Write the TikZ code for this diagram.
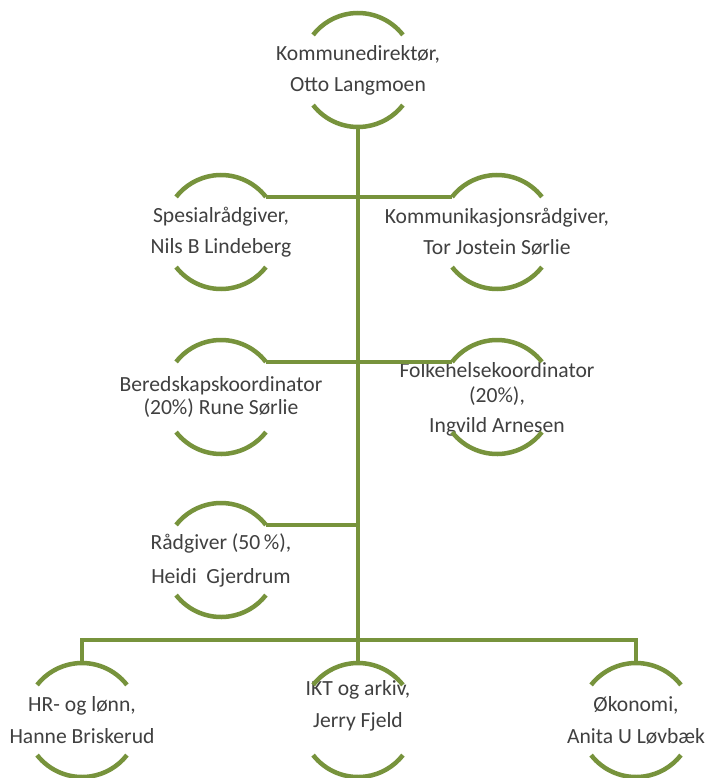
\documentclass[tikz,border=0pt]{standalone}
\usepackage{fontspec}
\setmainfont{Carlito}
\definecolor{olive}{HTML}{77933C}
\definecolor{inktext}{HTML}{404040}

\tikzset{
  unit/.style={circle,minimum size=114pt,inner sep=0pt,outer sep=0pt},
  unittext/.style={text=inktext,align=center,font=\fontsize{21.6}{31}\selectfont},
  bar/.style={olive,line width=4.5pt}
}

\begin{document}
\begin{tikzpicture}[x=1pt,y=-1pt]
  \useasboundingbox[fill=white] (0,0) rectangle (709,778);

  % Units: empty circles, the names sit on them as centre labels.
  \node[unit,label={[unittext]center:Kommunedirektør,\\Otto Langmoen}] (dir) at (358,70) {};
  \node[unit,label={[unittext]center:Spesialrådgiver,\\Nils B Lindeberg}] (spes) at (221,232) {};
  \node[unit,label={[unittext]center:Kommunikasjonsrådgiver,\\Tor Jostein Sørlie}] (kom) at (497,232) {};
  \node[unit,label={[unittext,font=\fontsize{21.6}{23}\selectfont]center:Beredskapskoordinator\\(20\%) Rune Sørlie}] (bered) at (221,397) {};
  \node[unit,label={[unittext,font=\fontsize{21.6}{25}\selectfont,yshift=-2pt]center:Folkehelsekoordinator\\(20\%),\\[5pt]Ingvild Arnesen}] (folk) at (497,397) {};
  \node[unit,label={[unittext,font=\fontsize{21.6}{34}\selectfont]center:Rådgiver (50\,\%),\\Heidi~~Gjerdrum}] (radg) at (221,560) {};
  \node[unit,label={[unittext,font=\fontsize{21.6}{32}\selectfont]center:HR- og lønn,\\Hanne Briskerud}] (hr) at (82,720) {};
  \node[unit,label={[unittext,font=\fontsize{21.6}{32}\selectfont,yshift=14pt]center:IKT og arkiv,\\Jerry Fjeld}] (ikt) at (358,720) {};
  \node[unit,label={[unittext,font=\fontsize{21.6}{32}\selectfont]center:Økonomi,\\Anita U Løvbæk}] (oko) at (636,720) {};
  \coordinate (hub) at (358,640);

  % Upper and lower arc of every unit.
  \foreach \n in {dir,spes,kom,bered,folk,radg,hr,ikt,oko} {
    \draw[bar] (\n.38) arc[start angle=38,end angle=142,radius=57pt];
    \draw[bar] (\n.218) arc[start angle=218,end angle=322,radius=57pt];
  }

  % Lines of the chart.
  \draw[bar] (dir.south) -- (hub);
  \draw[bar] (spes.38) -- (kom.142);
  \draw[bar] (bered.38) -- (folk.142);
  \draw[bar] (radg.38) -- (radg.38 -| dir.south);
  \draw[bar] (hr.north) |- (hub) -| (oko.north);
  \draw[bar] (hub) -- (ikt.north);
\end{tikzpicture}
\end{document}
